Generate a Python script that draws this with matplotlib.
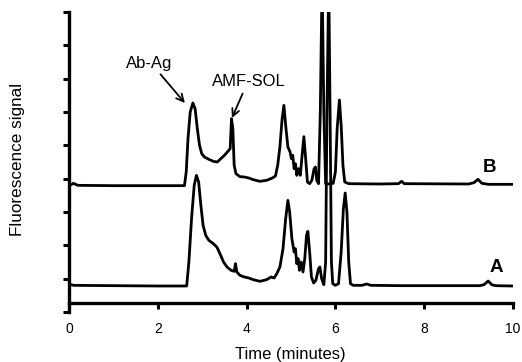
import matplotlib
matplotlib.use("Agg")
import matplotlib.pyplot as plt

plt.rcParams['font.family'] = ['Liberation Sans', 'DejaVu Sans']

# Trace A (lower chromatogram)
time_a = [0.0, 0.05, 0.1, 1.0, 2.0, 2.65, 2.70, 2.76, 2.82, 2.87, 2.92, 2.97, 3.02, 3.08, 3.15,
          3.25, 3.33, 3.40, 3.48, 3.56, 3.65, 3.72, 3.75, 3.78, 3.85, 3.95, 4.05, 4.15, 4.30,
          4.45, 4.55, 4.62, 4.68, 4.75, 4.82, 4.88, 4.93, 4.97, 5.02, 5.07, 5.10, 5.13, 5.16,
          5.19, 5.23, 5.27, 5.31, 5.35, 5.38, 5.42, 5.46, 5.51, 5.56, 5.62, 5.65, 5.69, 5.74,
          5.78, 5.81, 5.85, 5.88, 5.91, 5.94, 6.00, 6.07, 6.13, 6.18, 6.22, 6.26, 6.30, 6.34,
          6.40, 6.60, 6.70, 6.80, 7.50, 9.25, 9.35, 9.44, 9.52, 9.60, 10.0]
signal_a = [0.80, 0.82, 0.80, 0.79, 0.78, 0.78, 1.5, 2.8, 3.8, 4.1, 3.9, 3.2, 2.6, 2.3, 2.15,
            2.05, 1.95, 1.75, 1.5, 1.35, 1.25, 1.22, 1.45, 1.2, 1.1, 1.05, 1.02, 0.97, 0.92,
            0.97, 1.05, 1.02, 1.15, 1.35, 1.9, 2.8, 3.35, 3.0, 2.2, 1.8, 1.9, 1.45, 1.6,
            1.25, 1.5, 1.2, 1.6, 2.3, 2.42, 1.8, 1.05, 0.87, 0.95, 1.3, 1.35, 1.0, 0.82,
            1.5, 6.0, 10.0, 6.0, 1.5, 0.85, 0.80, 0.85, 1.8, 3.1, 3.57, 3.0, 1.5, 0.85,
            0.80, 0.80, 0.84, 0.80, 0.79, 0.79, 0.82, 0.93, 0.82, 0.79, 0.78]

# Trace B (upper chromatogram)
time_b = [0.0, 0.05, 0.1, 0.15, 0.2, 1.0, 2.0, 2.60, 2.64, 2.68, 2.73, 2.79, 2.84, 2.89, 2.94,
          2.99, 3.05, 3.15, 3.25, 3.34, 3.42, 3.50, 3.58, 3.63, 3.66, 3.69, 3.72, 3.76, 3.85,
          3.95, 4.05, 4.15, 4.30, 4.45, 4.58, 4.65, 4.70, 4.75, 4.80, 4.84, 4.88, 4.93, 4.98,
          5.01, 5.04, 5.07, 5.10, 5.13, 5.17, 5.21, 5.25, 5.29, 5.33, 5.37, 5.42, 5.47, 5.52,
          5.55, 5.58, 5.62, 5.66, 5.70, 5.74, 5.78, 5.85, 5.95, 6.00, 6.04, 6.09, 6.13, 6.17,
          6.21, 6.30, 7.00, 7.42, 7.49, 7.55, 9.00, 9.12, 9.21, 9.30, 9.45, 10.0]
signal_b = [3.80, 3.82, 3.86, 3.83, 3.80, 3.79, 3.79, 3.79, 4.2, 5.2, 6.0, 6.27, 6.1, 5.5, 5.0,
            4.75, 4.65, 4.58, 4.52, 4.50, 4.60, 4.70, 4.82, 4.9, 5.8, 5.5, 4.4, 4.15, 4.06,
            4.05, 4.02, 3.97, 3.92, 3.95, 4.02, 4.08, 4.4, 4.95, 5.8, 6.2, 5.6, 4.95, 4.8,
            4.6, 4.7, 4.3, 4.45, 4.1, 4.3, 4.1, 4.7, 5.26, 4.6, 3.9, 3.85, 3.95, 4.3,
            4.35, 3.95, 3.85, 6.0, 10.0, 6.0, 3.85, 3.84, 3.86, 4.2, 5.5, 6.36, 5.6, 4.4,
            3.9, 3.85, 3.84, 3.85, 3.92, 3.85, 3.84, 3.88, 3.98, 3.86, 3.83, 3.83]

x_ticks = [0, 2, 4, 6, 8, 10]
y_ticks = [0, 1, 2, 3, 4, 5, 6, 7, 8, 9]

fig = plt.figure(figsize=(5.22, 3.62), dpi=100)
ax = fig.add_axes([69/522, 50/362, 444/522, 300/362])

ax.plot(time_a, signal_a, color='black', lw=2.0, solid_joinstyle='round')
ax.plot(time_b, signal_b, color='black', lw=2.0, solid_joinstyle='round')

ax.set_xlim(0, 10)
ax.set_ylim(0, 9)
ax.set_xticks(x_ticks)
ax.set_xticklabels([str(t) for t in x_ticks], fontsize=12)
ax.set_yticks(y_ticks)
ax.set_yticklabels([])

for s in ['top', 'right']:
    ax.spines[s].set_visible(False)
ax.spines['left'].set_linewidth(2.4)
ax.spines['bottom'].set_linewidth(2.4)
ax.spines['bottom'].set_position(('data', 0.27))
ax.tick_params(axis='both', direction='out', length=4, width=2.2, color='black')
ax.tick_params(axis='x', pad=9.5)

ax.set_xlabel('Time (minutes)', fontsize=12)
ax.xaxis.set_label_coords(0.498, -0.117)
ax.set_ylabel('Fluorescence signal', fontsize=12.3)
ax.yaxis.set_label_coords(-0.099, 0.51)

ax.text(9.48, 4.35, 'B', fontsize=13.5, fontweight='bold', ha='center', va='center')
ax.text(9.63, 1.32, 'A', fontsize=13.5, fontweight='bold', ha='center', va='center')

ax.annotate('Ab-Ag', xy=(2.61, 6.27), xytext=(1.81, 7.47), fontsize=12,
            ha='center', va='center',
            arrowprops=dict(arrowstyle='->', lw=1.3, color='black', relpos=(0.67, 0.0),
                            shrinkA=1, shrinkB=0, mutation_scale=13))
ax.annotate('AMF-SOL', xy=(3.67, 5.82), xytext=(4.05, 6.9), fontsize=12,
            ha='center', va='center',
            arrowprops=dict(arrowstyle='->', lw=1.3, color='black', relpos=(0.44, 0.0),
                            shrinkA=1, shrinkB=0, mutation_scale=13))

fig.savefig('out.png', dpi=100)
